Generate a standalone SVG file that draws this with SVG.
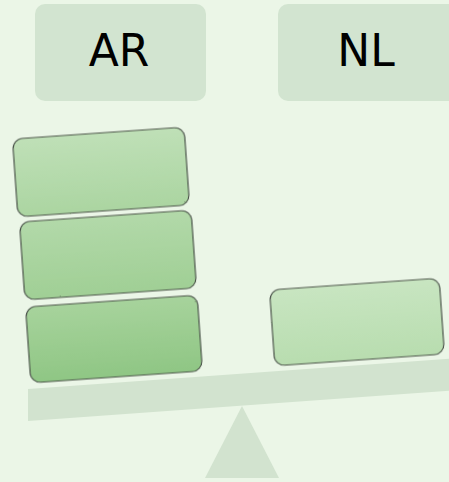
<svg xmlns="http://www.w3.org/2000/svg" width="449" height="482" viewBox="0 0 449 482">
<defs>
<linearGradient id="g1" x1="0" y1="0" x2="0" y2="1"><stop offset="0" stop-color="#BFE0B7"/><stop offset="1" stop-color="#ABD5A1"/></linearGradient>
<linearGradient id="g2" x1="0" y1="0" x2="0" y2="1"><stop offset="0" stop-color="#B2D9A9"/><stop offset="1" stop-color="#A0CF95"/></linearGradient>
<linearGradient id="g3" x1="0" y1="0" x2="0" y2="1"><stop offset="0" stop-color="#A7D39C"/><stop offset="1" stop-color="#8FC684"/></linearGradient>
<linearGradient id="g4" x1="0" y1="0" x2="0" y2="1"><stop offset="0" stop-color="#C8E5C1"/><stop offset="1" stop-color="#B8DDAF"/></linearGradient>
<filter id="rough" x="-5%" y="-5%" width="110%" height="110%"><feTurbulence type="fractalNoise" baseFrequency="0.8" numOctaves="1" seed="3"/><feDisplacementMap in="SourceGraphic" scale="1.6" xChannelSelector="R" yChannelSelector="G"/></filter>
</defs>
<style>
.lbl{fill:#D2E4D0}
.txt{font-family:"DejaVu Sans",sans-serif;font-size:44px;fill:#000;text-anchor:middle}
.blk{stroke:#4A5249;stroke-width:1.2;filter:url(#rough)}
.base{fill:#D2E3CF}
</style>
<rect width="449" height="482" fill="#EBF6E7"/>
<g id="label-ar"><rect class="lbl" x="35" y="4" width="171" height="97" rx="10"/><text class="txt" x="119" y="66">AR</text></g>
<g id="label-nl"><rect class="lbl" x="278" y="4" width="180" height="97" rx="10"/><text class="txt" x="366" y="66">NL</text></g>
<g id="beam"><polygon class="base" points="28,389 460,358 460,390 28,421"/></g>
<g id="fulcrum"><polygon class="base" points="242,406 279,478 205,478"/></g>
<g id="block-ar-3"><rect class="blk" fill="url(#g3)" x="28" y="301" width="172" height="76" rx="10" transform="rotate(-4 114 339)"/></g>
<g id="block-ar-2"><rect class="blk" fill="url(#g2)" x="22" y="216" width="172" height="78" rx="10" transform="rotate(-4 108 255)"/></g>
<g id="block-ar-1"><rect class="blk" fill="url(#g1)" x="15" y="133" width="172" height="78" rx="10" transform="rotate(-4 101 172)"/></g>
<g id="block-nl-1"><rect class="blk" fill="url(#g4)" x="272" y="284" width="170" height="76" rx="10" transform="rotate(-4 357 322)"/></g>
<g id="connectors"/>
</svg>
